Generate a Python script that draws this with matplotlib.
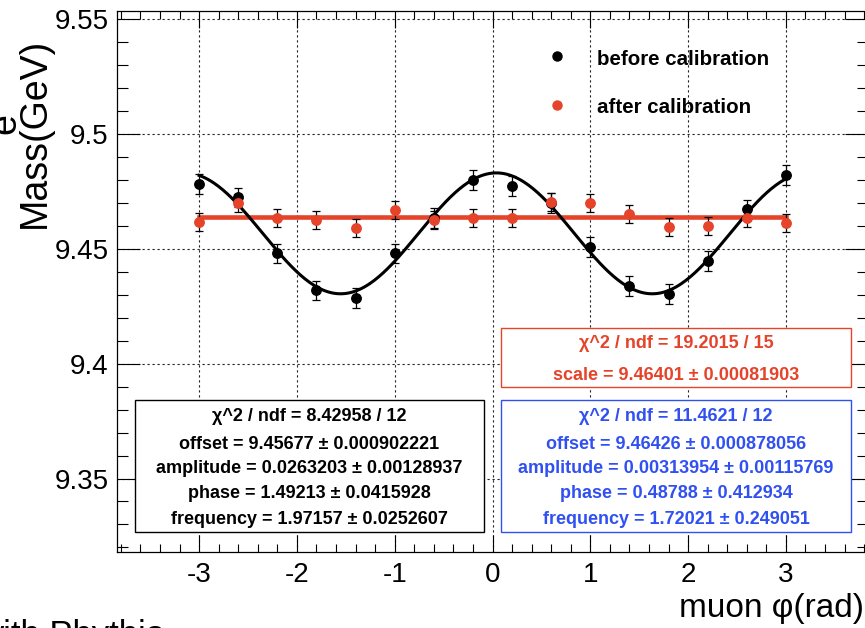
import numpy as np
import matplotlib
matplotlib.use("Agg")
import matplotlib.pyplot as plt
from matplotlib.ticker import MultipleLocator, FixedLocator, FuncFormatter
from matplotlib.lines import Line2D
from matplotlib.patches import Rectangle

plt.rcParams["font.family"] = ["Liberation Sans", "DejaVu Sans"]
plt.rcParams["axes.unicode_minus"] = False

# ---- data -------------------------------------------------------------
phi = [-3.0, -2.6, -2.2, -1.8, -1.4, -1.0, -0.6, -0.2,
       0.2, 0.6, 1.0, 1.4, 1.8, 2.2, 2.6, 3.0]
mass_before = [9.4782, 9.4725, 9.4481, 9.4320, 9.4286, 9.4481, 9.4635, 9.4800,
               9.4774, 9.4700, 9.4508, 9.4338, 9.4303, 9.4447, 9.4673, 9.4822]
err_before = [0.0042] * 16
mass_after = [9.4617, 9.4700, 9.4634, 9.4625, 9.4590, 9.4669, 9.4625, 9.4634,
              9.4634, 9.4704, 9.4700, 9.4652, 9.4595, 9.4599, 9.4634, 9.4612]
err_after = [0.0040] * 16

# fit results
sin_fit = {"offset": 9.45677, "amplitude": 0.0263203, "phase": 1.49213, "frequency": 1.97157}
const_fit = 9.46401

box_black = ["χ^2 / ndf = 8.42958 / 12",
             "offset = 9.45677 ± 0.000902221",
             "amplitude = 0.0263203 ± 0.00128937",
             "phase = 1.49213 ± 0.0415928",
             "frequency = 1.97157 ± 0.0252607"]
box_red = ["χ^2 / ndf = 19.2015 / 15",
           "scale = 9.46401 ± 0.00081903"]
box_blue = ["χ^2 / ndf = 11.4621 / 12",
            "offset = 9.46426 ± 0.000878056",
            "amplitude = 0.00313954 ± 0.00115769",
            "phase = 0.48788 ± 0.412934",
            "frequency = 1.72021 ± 0.249051"]

x_ticks = [-3, -2, -1, 0, 1, 2, 3]
y_ticks = [9.35, 9.40, 9.45, 9.50, 9.55]

RED = "#e5432a"
BLUE = "#3050f2"

# ---- figure -----------------------------------------------------------
W, H = 865, 628
fig = plt.figure(figsize=(W / 100, H / 100), dpi=100)


def fx(px):
    return px / W


def fy(py):
    return 1 - py / H


ax = fig.add_axes([fx(117), fy(552), (868 - 117) / W, (552 - 11) / H])
ax.set_xlim(-3.84, 3.84)
ax.set_ylim(9.318, 9.5536)

ax.xaxis.set_major_locator(FixedLocator(x_ticks))
ax.xaxis.set_minor_locator(MultipleLocator(0.2))
ax.yaxis.set_major_locator(FixedLocator(y_ticks))
ax.yaxis.set_minor_locator(MultipleLocator(0.01))
ax.yaxis.set_major_formatter(FuncFormatter(lambda v, p: f"{v:g}"))
ax.xaxis.set_major_formatter(FuncFormatter(lambda v, p: f"{v:g}"))

ax.tick_params(which="both", direction="in", top=True, right=True, width=0.8,
               labelsize=20, colors="black")
ax.tick_params(axis="x", which="major", length=12, pad=7)
ax.tick_params(axis="x", which="minor", length=6)
ax.tick_params(axis="y", which="major", length=16.5, pad=6)
ax.tick_params(axis="y", which="minor", length=8)
for s in ax.spines.values():
    s.set_linewidth(0.9)

ax.set_axisbelow(True)
ax.grid(True, which="major", linestyle=(0, (2, 2.5)), color="#222222", linewidth=0.8)

# fitted curves
xf = np.linspace(-3, 3, 400)
yf = sin_fit["offset"] + sin_fit["amplitude"] * np.sin(sin_fit["frequency"] * xf + sin_fit["phase"])
ax.plot([-3, 3], [const_fit, const_fit], color=RED, lw=3.3, zorder=2)
ax.plot(xf, yf, color="black", lw=2.2, zorder=3)

# measurements
ax.errorbar(phi, mass_before, yerr=err_before, fmt="o", color="black", ms=6.8,
            ecolor="black", elinewidth=0.9, capsize=3, capthick=0.9, zorder=4)
ax.errorbar(phi, mass_after, yerr=err_after, fmt="o", color=RED, ms=6.8,
            ecolor="black", elinewidth=0.9, capsize=3, capthick=0.9, zorder=5)

# axis titles
fig.text(fx(864), fy(617), "muon φ(rad)", fontsize=24, ha="right", va="baseline")
fig.text(fx(45), fy(38), "Mass(GeV)", fontsize=27, rotation=90,
         rotation_mode="anchor", ha="right", va="baseline")
fig.text(fx(15), fy(113), "e", fontsize=27, rotation=90,
         rotation_mode="anchor", ha="right", va="baseline")
fig.text(fx(-22), fy(645), "with Phythia", fontsize=25, ha="left", va="baseline")

# legend
fig.add_artist(Line2D([fx(557)], [fy(56)], marker="o", ms=6.5, color="black", lw=0))
fig.add_artist(Line2D([fx(557)], [fy(105)], marker="o", ms=6.5, color=RED, lw=0))
fig.text(fx(597), fy(65), "before calibration", fontsize=14.8, weight="bold", va="baseline")
fig.text(fx(597), fy(113), "after calibration", fontsize=14.8, weight="bold", va="baseline")


# fit parameter boxes
def stat_box(x0, y0, x1, y1, lines, baselines, color):
    fig.add_artist(Rectangle((fx(x0), fy(y1)), (x1 - x0) / W, (y1 - y0) / H,
                             transform=fig.transFigure, facecolor="white",
                             edgecolor=color, linewidth=1.0, zorder=10))
    xc = fx((x0 + x1) / 2)
    for txt, b in zip(lines, baselines):
        fig.text(xc, fy(b), txt, fontsize=13, weight="bold", color=color,
                 ha="center", va="baseline", zorder=11)


stat_box(135, 400, 484, 532, box_black, [421, 449, 473, 498, 524], "black")
stat_box(501, 328, 851, 387, box_red, [348, 380], RED)
stat_box(501, 400, 851, 532, box_blue, [421, 449, 473, 498, 524], BLUE)

fig.savefig("out.png", dpi=100)
